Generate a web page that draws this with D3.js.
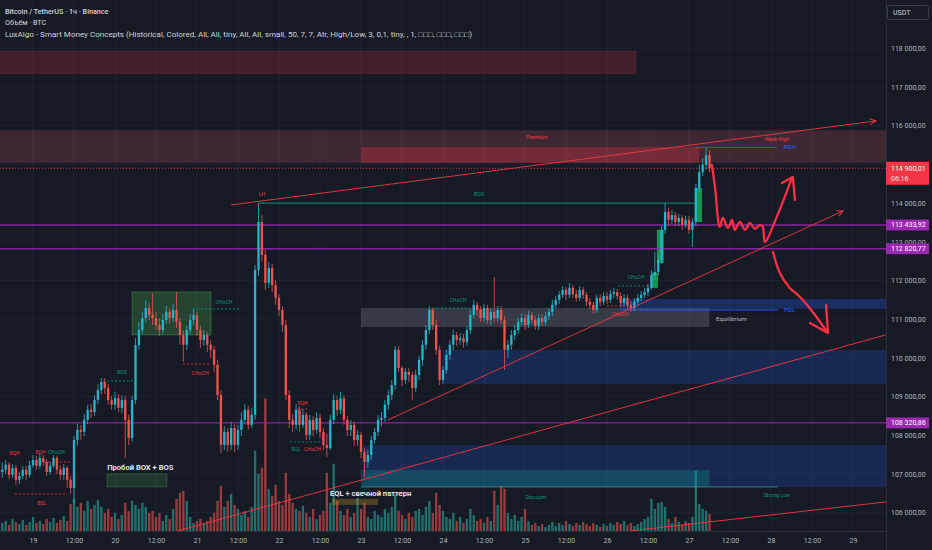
<!DOCTYPE html>
<html><head><meta charset="utf-8">
<script src="https://cdn.jsdelivr.net/npm/d3@7"></script>
<style>
html,body{margin:0;padding:0;background:#161a25;overflow:hidden;}
svg{display:block;font-family:Roboto,"Noto Sans",sans-serif;}
</style></head><body>
<svg id="c" width="932" height="550"></svg>
<script>
// ---------------- DATA ----------------
const origin = Date.UTC(2025, 9, 19);      // 19 Oct, 00:00
const firstHour = -9;                        // first candle: 18 Oct 15:00 (1h candles)
const firstOpen = 107050;
const closes = [
107110,107240,106980,107160,106850,106950,107110,106980,107230,107360,107210,107410,
107310,107050,107210,107410,107110,106980,107160,106850,106640,107880,108140,108090,
108400,108660,108600,108910,109170,109380,109220,108910,108790,108960,108710,108910,
108400,107930,108910,110330,110720,111030,111290,111110,111030,110850,110720,110980,
111190,111030,111240,110930,110590,110340,110720,110980,111110,110720,110460,110590,
110340,110210,109820,109040,107750,108090,107750,108190,107750,108140,108400,108660,
108270,108530,112270,113510,112660,111940,112320,111880,111550,111240,110850,109040,
108400,108270,108660,108270,108530,108010,108400,108140,108450,108090,107750,107670,
108400,108910,108660,108960,108400,108140,108270,107880,108010,107570,107310,107490,
107880,108090,108400,108450,108790,109040,109300,110210,109740,109430,109640,109560,
109220,109560,109950,110340,110720,111240,110850,110210,109430,109690,110080,110340,
110590,110460,110510,110410,110720,111110,111370,111240,111030,111290,110980,111190,
111030,111240,110980,110210,110340,110590,110720,110930,111030,110850,111110,110980,
110830,111030,110930,111080,111190,111370,111500,111630,111760,111630,111810,111650,
111550,111760,111630,111450,111370,111240,111550,111450,111600,111500,111650,111700,
111600,111420,111550,111370,111290,111450,111550,111630,111700,111810,112140,112220,
112530,113310,113770,113570,113690,113510,113620,113440,113570,113310,113510,114390,
114800,114990,115240,114900.01];
const highs = [
107310,107360,107310,107260,107230,107050,107210,107210,107340,107490,107470,107540,
107490,107390,107310,107490,107470,107230,107260,107210,106950,107980,108300,108270,
108550,108790,108810,109040,109330,109480,109480,109330,109020,109120,109070,109040,
109020,108530,109020,110510,110930,111190,111500,111420,111680,111190,111030,111140,
111340,111290,111390,111700,111030,110720,110830,111140,111260,111190,110830,110720,
110670,110460,110310,109950,109170,108240,108190,108350,108290,108270,108600,108810,
108760,108710,112400,114000,113690,112790,112480,112430,112010,111650,111340,110980,
109170,108550,108810,108760,108680,108600,108530,108500,108600,108550,108190,108040,
108530,109070,109020,109120,109040,108500,108400,108350,108140,108090,107670,107620,
107980,108190,108530,108600,108910,109170,109430,110310,110310,109790,109740,109740,
109640,109690,110050,110460,110850,111340,111290,110980,110310,109790,110210,110460,
110720,110670,110640,110620,110830,111240,111500,111450,111340,111390,111370,111290,
112090,111340,111340,111080,110460,110720,110850,111030,111160,111140,111210,111190,
111080,111140,111140,111190,111290,111500,111600,111730,111860,111830,111940,111890,
111760,111860,111830,111700,111550,111450,111630,111650,111700,111700,111760,111810,
111780,111700,111650,111630,111470,111550,111650,111730,111810,111910,112270,112740,
112660,113410,114000,113880,113820,113770,113720,113690,113670,113670,113620,114500,
114990,115160,115420,115370];
const lows = [
106900,107000,106870,106900,106720,106740,106870,106850,106900,107160,107110,107130,
107210,106950,106980,107160,107000,106850,106850,106640,106490,106250,107730,107880,
107980,108290,108450,108500,108810,109070,109070,108790,108660,108660,108600,108580,
107410,107750,107830,108810,110210,110620,110930,110980,110850,110720,110570,110620,
110880,110880,110930,110770,110340,109900,110210,110620,110850,110570,110260,110310,
110150,110000,109640,108910,107540,107620,107570,107620,107570,107620,107980,108290,
108140,108190,108400,112120,112480,111760,111810,111700,111370,111080,110670,108910,
108190,108090,108140,108090,108190,107880,107880,107980,108040,107930,107620,107440,
107620,108290,108500,108550,108270,107980,107980,107730,107730,107410,106920,107160,
107360,107780,107980,108240,108350,108660,108910,109170,109640,109280,109330,109380,
108910,109120,109430,109790,110210,110620,110720,110080,109300,109330,109590,109950,
110210,110310,110340,110260,110310,110620,111030,111080,110930,110930,110880,110850,
110930,110930,110880,109690,110000,110210,110460,110620,110830,110720,110770,110880,
110720,110720,110830,110830,110980,111080,111290,111390,111550,111500,111550,111550,
111450,111470,111520,111340,111260,111140,111160,111340,111370,111390,111420,111550,
111500,111320,111340,111260,111190,111210,111370,111470,111550,111600,111760,112010,
112120,112430,113200,113410,113460,113410,113410,113310,113360,113200,112870,113410,
114290,114700,114860,114800];
const volumes = [
240,300,180,360,270,210,330,180,270,420,240,300,
210,360,270,390,240,330,450,300,810,960,720,840,
600,900,660,780,930,720,540,660,420,540,360,480,
840,600,900,780,660,840,720,540,600,420,540,300,
480,360,660,960,1140,1200,900,420,240,300,360,240,
300,420,540,900,1350,720,900,1110,780,660,480,600,
420,720,2400,1710,1890,3960,1260,1050,1380,900,780,1740,
1110,840,660,600,750,540,420,660,360,480,600,1740,
840,2010,900,600,480,660,420,540,990,660,840,420,
360,600,480,420,660,540,720,1110,600,480,360,540,
420,600,660,480,720,900,540,1140,780,600,420,360,
540,300,420,240,360,660,480,300,360,240,420,300,
1200,780,1350,1260,540,360,480,300,420,660,300,180,
240,150,210,120,180,270,150,240,180,300,210,150,
240,180,270,210,150,240,180,120,210,150,240,180,
270,210,300,180,240,150,210,270,360,420,960,660,
840,870,720,360,240,420,270,180,300,240,420,1800,
810,660,600,510];

const xTickHours = [0,12,24,36,48,60,72,84,96,108,120,132,144,156,168,180,192,204,216,228,240];
const xTickLabels = ["19","12:00","20","12:00","21","12:00","22","12:00","23","12:00","24","12:00","25","12:00","26","12:00","27","12:00","28","12:00","29"];
const yTicks = [106000,107000,108000,109000,110000,111000,112000,113000,114000,115000,116000,117000,118000];
const levelPrices = [113433.92, 112820.77, 108320.86];
const lastPrice = 114900.01;
const lastTimer = "06:16";

// zones: [startHour, endHour, topPrice, bottomPrice, kind]
const zones = [
 [-10, 176.5, 117930, 117340, "supply"],
 [-10, 251, 115880, 115040, "premium"],
 [96, 195, 115450, 115040, "supplyOB"],
 [96, 198, 111290, 110800, "equil"],
 [171.8, 251, 111520, 111270, "pdl"],
 [120, 251, 110206, 109327, "blueOB"],
 [96.5, 251, 107750, 106666, "blueOB"],
 [96, 198, 107105, 106666, "teal"],
 [29, 52.1, 111704, 110594, "greenBox"],
 [21.7, 39.2, 107002, 106666, "greenSmall"],
 [87.5, 101, 106356, 106201, "brown"],
 [180.9, 182.9, 112200, 111810, "fvg"],
 [182.6, 184.6, 113310, 112450, "fvg"],
 [193.7, 195.8, 114390, 113510, "fvg"]
];
// dashed structure lines: [h1, h2, price, kind]
const dashedLines = [
 [-1.5, 11.4, 107312, "bear"],
 [-5.3, 10, 106485, "bear"],
 [20.5, 29.3, 109405, "bull"],
 [43.9, 51.8, 109844, "bear"],
 [46.8, 60.6, 111265, "bull"],
 [77.3, 80.8, 108680, "bear"],
 [75.2, 84.6, 107829, "bull"],
 [117, 127.9, 111291, "bull"],
 [171.2, 180.6, 111860, "bull"],
 [168, 175.3, 111343, "bear"]
];
// solid structure lines: [h1, h2, price, kind]
const solidLines = [
 [66, 195, 114000, "bull"],
 [193.7, 217.7, 115440, "blue"],
 [171.8, 218, 111240, "blue"],
 [96, 218, 106666, "strong"]
];
// structure labels: [hour, price, text, kind]
const structLabels = [
 [-5.3, 107545, "EQH", "bear"],
 [2.2, 107570, "EQH", "bear"],
 [6.8, 107570, "CHoCH", "bull"],
 [2.6, 106250, "BSL", "bear"],
 [26, 109637, "BOS", "bull"],
 [48.9, 109611, "CHoCH", "bear"],
 [55.9, 111446, "CHoCH", "bull"],
 [67, 114235, "LH", "bear"],
 [130.5, 114235, "BOS", "bull"],
 [79, 108835, "EQH", "bear"],
 [77, 107648, "EQL", "bull"],
 [81.8, 107648, "CHoCH", "bear"],
 [124.4, 111498, "CHoCH", "bull"],
 [176.5, 112090, "CHoCH", "bull"],
 [171.8, 111136, "CHoCH", "bear"],
 [147.5, 115710, "Premium", "bear"],
 [217.7, 115658, "Weak High", "bear"],
 [221.5, 115452, "PDH", "blue"],
 [221.5, 111240, "PDL", "blue"],
 [147.2, 106407, "Discount", "bull"],
 [217.7, 106458, "Strong Low", "bull"]
];
// user notes: [hour, price, text]
const notes = [
 [21.7, 107183, "Пробой BOX + BOS"],
 [86.9, 106511, "EQL + свечной паттерн"]
];
const equilibriumLabel = [199.9, 111007, "Equilibrium"];
// trend lines: [[h1,p1],[h2,p2], arrow]
const trendLines = [
 [[58, 113953], [246.7, 116123], true],
 [[103.9, 108397], [237.1, 113798], true],
 [[42.4, 105529], [249.6, 110594], false],
 [[174.7, 105529], [249.6, 106278], false]
];
// hand-drawn scenario arrows: [hour, price]
const handUp = [[198.7,114986],[199.6,114418],[201.0,113384],[201.9,113617],[203.4,113359],[204.6,113565],[205.4,113307],[206.9,113513],[208.4,113307],[209.8,113488],[211.3,113333],[212.8,113436],[213.6,113384],[214.2,112997],[217.7,113643],[222.1,114650]];
const handUpHead = [[219.2,114521],[222.4,114676],[223.0,114082]];
const handDown = [[216.6,112738],[218.6,112195],[221.5,111808],[224.5,111575],[228.9,111110],[232.4,110671]];
const handDownHead = [[227.4,110904],[232.7,110645],[232.1,111369]];

const headerLines = [
 "Bitcoin / TetherUS · 1ч · Binance",
 "Объём · BTC",
 "LuxAlgo - Smart Money Concepts (Historical, Colored, All, All, tiny, All, All, small, 50, 7, 7, Atr, High/Low, 3, 0,1, tiny, , 1, □□□, □□□, □□□)"
];

// ---------------- STYLE ----------------
const BG = "#161a25", GRID = "#1e2230", AXT = "#b2b5be";
const UP = "#24b4cc", DOWN = "#ef5350";
const kindColor = {bear:"#f23645", bull:"#089981", blue:"#2962ff", strong:"#3d8a8a"};
const zoneStyle = {
 supply:{fill:"rgba(242,54,69,0.2)", stroke:"rgba(242,54,69,0.18)"},
 premium:{fill:"rgba(200,90,110,0.22)", stroke:"none"},
 supplyOB:{fill:"rgba(242,54,69,0.30)", stroke:"none"},
 equil:{fill:"rgba(120,123,134,0.33)", stroke:"none"},
 pdl:{fill:"rgba(41,98,255,0.28)", stroke:"none"},
 blueOB:{fill:"rgba(41,98,255,0.2)", stroke:"none"},
 teal:{fill:"rgba(0,190,170,0.22)", stroke:"none"},
 greenBox:{fill:"rgba(76,175,80,0.28)", stroke:"rgba(76,175,80,0.5)"},
 greenSmall:{fill:"rgba(76,175,80,0.2)", stroke:"rgba(76,175,80,0.4)"},
 brown:{fill:"rgba(210,160,40,0.3)", stroke:"none"},
 fvg:{fill:"rgba(24,170,90,0.85)", stroke:"none"}
};

// ---------------- CHART ----------------
const W = 932, HT = 550, PW = 886, PH = 531;
const HOUR = 36e5;
const T = h => new Date(origin + h * HOUR);
const x = d3.scaleUtc().domain([T(0), T(240)]).range([33, 853]);
const y = d3.scaleLinear().domain([106000, 118000]).range([512.7, 48.3]);
const vy = d3.scaleLinear().domain([0, 4000]).range([PH, PH - 134]);
const fmt = v => d3.format(",.2f")(v).replace(/,/g, " ").replace(".", ",");

const svg = d3.select("#c");
svg.append("rect").attr("width", W).attr("height", HT).attr("fill", BG);
const defs = svg.append("defs");
defs.append("clipPath").attr("id", "plot").append("rect").attr("width", PW).attr("height", PH);
defs.append("marker").attr("id", "arr").attr("viewBox", "0 0 8 8").attr("refX", 7).attr("refY", 4)
  .attr("markerWidth", 8).attr("markerHeight", 8).attr("markerUnits", "userSpaceOnUse").attr("orient", "auto")
  .append("path").attr("d", "M1,1 L7,4 L1,7").attr("fill", "none").attr("stroke", "#f23645").attr("stroke-width", 1);

const g = svg.append("g").attr("clip-path", "url(#plot)");

// grid
g.append("g").selectAll("line").data(xTickHours).join("line")
  .attr("x1", d => x(T(d))).attr("x2", d => x(T(d))).attr("y1", 0).attr("y2", PH)
  .attr("stroke", GRID).attr("stroke-width", 1);
g.append("g").selectAll("line").data(yTicks).join("line")
  .attr("x1", 0).attr("x2", PW).attr("y1", d => y(d)).attr("y2", d => y(d))
  .attr("stroke", GRID).attr("stroke-width", 1);

// candles data
const candles = closes.map((c, i) => ({
  t: T(firstHour + i), o: i ? closes[i - 1] : firstOpen, c, h: highs[i], l: lows[i], v: volumes[i]
}));
const step = x(T(1)) - x(T(0));
const bw = step * 0.68;

// volume
g.append("g").selectAll("rect").data(candles).join("rect")
  .attr("x", d => x(d.t) - bw / 2).attr("width", bw)
  .attr("y", d => vy(d.v)).attr("height", d => PH - vy(d.v))
  .attr("fill", d => d.c >= d.o ? "rgba(38,166,154,0.62)" : "rgba(239,83,80,0.6)");

// zones
g.append("g").selectAll("rect").data(zones).join("rect")
  .attr("x", d => x(T(d[0]))).attr("width", d => x(T(d[1])) - x(T(d[0])))
  .attr("y", d => y(d[2])).attr("height", d => y(d[3]) - y(d[2]))
  .attr("fill", d => zoneStyle[d[4]].fill).attr("stroke", d => zoneStyle[d[4]].stroke).attr("stroke-width", 0.8);

// level lines
g.append("g").selectAll("line").data(levelPrices).join("line")
  .attr("x1", 0).attr("x2", PW).attr("y1", d => y(d)).attr("y2", d => y(d))
  .attr("stroke", "#9c27b0").attr("stroke-opacity", 0.85).attr("stroke-width", 1.4);

// last price dotted
g.append("line").attr("x1", 0).attr("x2", PW).attr("y1", y(lastPrice)).attr("y2", y(lastPrice))
  .attr("stroke", "#f23645").attr("stroke-width", 0.9).attr("stroke-dasharray", "1,2");

// solid structure lines
g.append("g").selectAll("line").data(solidLines).join("line")
  .attr("x1", d => x(T(d[0]))).attr("x2", d => x(T(d[1]))).attr("y1", d => y(d[2])).attr("y2", d => y(d[2]))
  .attr("stroke", d => kindColor[d[3]]).attr("stroke-width", 0.9);

// dashed structure lines
g.append("g").selectAll("line").data(dashedLines).join("line")
  .attr("x1", d => x(T(d[0]))).attr("x2", d => x(T(d[1]))).attr("y1", d => y(d[2])).attr("y2", d => y(d[2]))
  .attr("stroke", d => kindColor[d[3]]).attr("stroke-width", 0.8).attr("stroke-dasharray", "2,2");

// candles
const cg = g.append("g");
cg.selectAll("line").data(candles).join("line")
  .attr("x1", d => x(d.t)).attr("x2", d => x(d.t)).attr("y1", d => y(d.h)).attr("y2", d => y(d.l))
  .attr("stroke", d => d.c >= d.o ? UP : DOWN).attr("stroke-width", 0.8);
cg.selectAll("rect").data(candles).join("rect")
  .attr("x", d => x(d.t) - bw / 2).attr("width", bw)
  .attr("y", d => y(Math.max(d.o, d.c))).attr("height", d => Math.max(0.8, Math.abs(y(d.o) - y(d.c))))
  .attr("fill", d => d.c >= d.o ? UP : DOWN);

// trend lines
g.append("g").selectAll("line").data(trendLines).join("line")
  .attr("x1", d => x(T(d[0][0]))).attr("y1", d => y(d[0][1]))
  .attr("x2", d => x(T(d[1][0]))).attr("y2", d => y(d[1][1]))
  .attr("stroke", "#f23645").attr("stroke-opacity", 0.9).attr("stroke-width", 1)
  .attr("marker-end", d => d[2] ? "url(#arr)" : null);

// hand drawn arrows
const hl = d3.line().x(d => x(T(d[0]))).y(d => y(d[1])).curve(d3.curveCatmullRom.alpha(0.5));
const hlLin = d3.line().x(d => x(T(d[0]))).y(d => y(d[1]));
[[handUp, hl], [handUpHead, hlLin], [handDown, hl], [handDownHead, hlLin]].forEach(([pts, gen]) => {
  g.append("path").attr("d", gen(pts)).attr("fill", "none").attr("stroke", "#ff2f45")
    .attr("stroke-width", 2.3).attr("stroke-linecap", "round").attr("stroke-linejoin", "round");
});

// structure labels
g.append("g").selectAll("text").data(structLabels).join("text")
  .attr("x", d => x(T(d[0]))).attr("y", d => y(d[1])).attr("dy", "0.35em")
  .attr("text-anchor", "middle").attr("font-size", d => (d[3] === "blue" ? 6 : 5.2))
  .attr("fill", d => kindColor[d[3]]).text(d => d[2]);

g.append("text").attr("x", x(T(equilibriumLabel[0]))).attr("y", y(equilibriumLabel[1])).attr("dy", "0.35em")
  .attr("font-size", 6.2).attr("fill", "#b2b5be").text(equilibriumLabel[2]);

g.append("g").selectAll("text").data(notes).join("text")
  .attr("x", d => x(T(d[0]))).attr("y", d => y(d[1])).attr("dy", "0.35em")
  .attr("font-size", 7.6).attr("font-weight", 600).attr("fill", "#eceff4").text(d => d[2]);

// axes frame
svg.append("line").attr("x1", PW + 0.5).attr("x2", PW + 0.5).attr("y1", 0).attr("y2", HT).attr("stroke", "#2a2e39");
svg.append("line").attr("x1", 0).attr("x2", PW).attr("y1", PH + 0.5).attr("y2", PH + 0.5).attr("stroke", "#2a2e39");

// x axis
const xa = svg.append("g").attr("transform", `translate(0,${PH})`)
  .call(d3.axisBottom(x).tickValues(xTickHours.map(T)).tickFormat((d, i) => xTickLabels[i]).tickSize(0).tickPadding(7));
xa.select(".domain").remove();
xa.selectAll("text").attr("fill", AXT).attr("font-size", 7).attr("font-family", "Roboto");

// y axis (labels hidden where the last-price badge covers them, as in the terminal)
const lastY = y(lastPrice);
const ya = svg.append("g").attr("transform", `translate(${PW},0)`)
  .call(d3.axisRight(y).tickValues(yTicks.filter(v => Math.abs(y(v) - lastY) > 9)).tickFormat(fmt).tickSize(0).tickPadding(5));
ya.select(".domain").remove();
ya.selectAll("text").attr("fill", AXT).attr("font-size", 7).attr("font-family", "Roboto");

// level labels
const lv = svg.append("g").selectAll("g").data(levelPrices).join("g");
lv.append("rect").attr("x", PW).attr("y", d => y(d) - 5.5).attr("width", 43).attr("height", 11).attr("fill", "#9c27b0");
lv.append("text").attr("x", PW + 5).attr("y", d => y(d)).attr("dy", "0.35em").attr("font-size", 7)
  .attr("fill", "#ffffff").text(d => fmt(d));

// last price label
svg.append("rect").attr("x", PW).attr("y", lastY - 6.5).attr("width", 43).attr("height", 23).attr("fill", "#f23645");
svg.append("text").attr("x", PW + 5).attr("y", lastY).attr("dy", "0.35em").attr("font-size", 7).attr("fill", "#fff").text(fmt(lastPrice));
svg.append("text").attr("x", PW + 5).attr("y", lastY + 10).attr("dy", "0.35em").attr("font-size", 7).attr("fill", "#ffe3e3").text(lastTimer);

// USDT box
svg.append("rect").attr("x", 887.5).attr("y", 5.5).attr("width", 41).attr("height", 14).attr("rx", 2)
  .attr("fill", "#161a25").attr("stroke", "#3a3e4a");
svg.append("text").attr("x", 893).attr("y", 12.5).attr("dy", "0.35em").attr("font-size", 7).attr("fill", "#d1d4dc").text("USDT");

// header
const hdr = svg.append("g");
hdr.selectAll("text").data(headerLines).join("text")
  .attr("x", 5).attr("y", (d, i) => 11 + i * 11.5).attr("dy", "0.35em")
  .attr("font-size", 7.2).attr("font-weight", (d, i) => i === 0 ? 500 : 400)
  .attr("fill", "#d1d4dc").text(d => d)
  .each(function (d, i) { if (i === 2) d3.select(this).attr("textLength", 467).attr("lengthAdjust", "spacingAndGlyphs"); });
</script>
</body></html>
